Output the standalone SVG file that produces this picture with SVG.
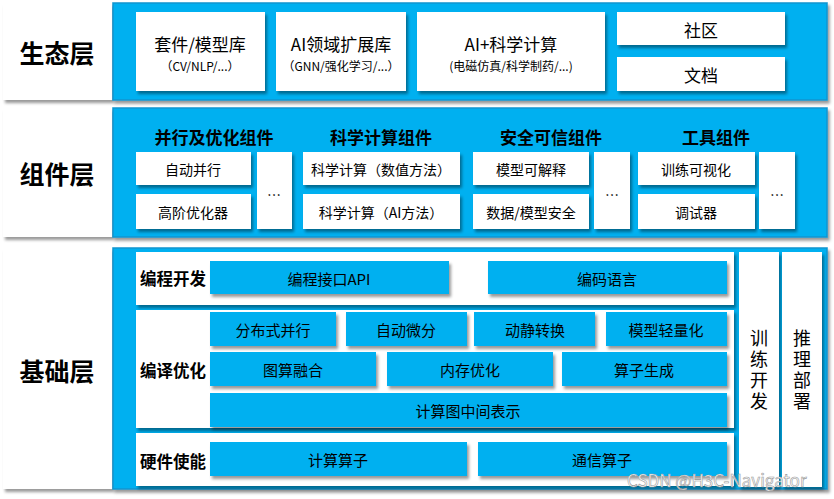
<svg xmlns="http://www.w3.org/2000/svg" width="834" height="499" viewBox="0 0 834 499">
<defs>
<filter id="sh" x="-10%" y="-10%" width="130%" height="140%">
<feDropShadow dx="2" dy="3" stdDeviation="1.5" flood-color="#000" flood-opacity="0.4"/>
</filter>
<style>
text{font-family:"Microsoft YaHei","Noto Sans CJK SC","Liberation Sans",sans-serif;fill:#000;text-anchor:middle;dominant-baseline:central}
.w{fill:#fff;filter:url(#sh)}
.b{fill:#00B0F0;filter:url(#sh)}
.panel{fill:#00B0F0;stroke:#0A95CF;stroke-width:1.5;filter:url(#sh)}
.lbl{font-size:25px;font-weight:bold}
.hd{font-size:17px;font-weight:bold}
.sub{font-size:16.5px;font-weight:bold}
.t{font-size:14px}
.tb{font-size:15px}
.big{font-size:17px}
.sm{font-size:12px}
.v{font-size:18px;writing-mode:vertical-rl;text-anchor:start;dominant-baseline:auto;letter-spacing:3px}
.wm{font-size:17px;fill:#fff;stroke:#999;stroke-width:0.6;text-anchor:start}
</style>
</defs>

<g id="layer-eco">
<rect class="w" x="3" y="3" width="109" height="97"/>
<text class="lbl" x="57" y="52">生态层</text>
<rect class="panel" x="113" y="3" width="714" height="97"/>
</g>
<g id="eco-suite">
<rect class="w" x="136" y="12" width="129" height="79"/>
<text class="big" x="200" y="43">套件/模型库</text>
<text class="sm" x="200" y="65">（CV/NLP/...）</text>
</g>
<g id="eco-ai-domain">
<rect class="w" x="276" y="12" width="130" height="79"/>
<text class="big" x="341" y="43">AI领域扩展库</text>
<text class="sm" x="341" y="65">（GNN/强化学习/...）</text>
</g>
<g id="eco-ai-sci">
<rect class="w" x="417" y="12" width="188" height="79"/>
<text class="big" x="511" y="43">AI+科学计算</text>
<text class="sm" x="511" y="65">(电磁仿真/科学制药/...)</text>
</g>
<g id="eco-community">
<rect class="w" x="617" y="12" width="168" height="33"/>
<text class="big" x="701" y="29">社区</text>
</g>
<g id="eco-docs">
<rect class="w" x="617" y="57" width="168" height="34"/>
<text class="big" x="701" y="74">文档</text>
</g>

<g id="layer-comp">
<rect class="w" x="3" y="108" width="109" height="129"/>
<text class="lbl" x="57" y="173">组件层</text>
<rect class="panel" x="113" y="108" width="714" height="129"/>
</g>
<g id="comp-parallel">
<text class="hd" x="214" y="136">并行及优化组件</text>
<rect class="w" x="136" y="152" width="115" height="33"/>
<text class="t" x="193" y="169">自动并行</text>
<rect class="w" x="136" y="194" width="115" height="35"/>
<text class="t" x="193" y="212">高阶优化器</text>
<rect class="w" x="257" y="152" width="35" height="77"/>
<text class="t" x="274" y="194">…</text>
</g>
<g id="comp-sci">
<text class="hd" x="381" y="136">科学计算组件</text>
<rect class="w" x="303" y="152" width="157" height="33"/>
<text class="t" x="381" y="169">科学计算（数值方法）</text>
<rect class="w" x="303" y="194" width="157" height="35"/>
<text class="t" x="381" y="212">科学计算（AI方法）</text>
</g>
<g id="comp-security">
<text class="hd" x="551" y="136">安全可信组件</text>
<rect class="w" x="473" y="152" width="116" height="33"/>
<text class="t" x="531" y="169">模型可解释</text>
<rect class="w" x="473" y="194" width="116" height="35"/>
<text class="t" x="531" y="212">数据/模型安全</text>
<rect class="w" x="594" y="152" width="36" height="77"/>
<text class="t" x="612" y="194">…</text>
</g>
<g id="comp-tools">
<text class="hd" x="716" y="136">工具组件</text>
<rect class="w" x="638" y="152" width="117" height="33"/>
<text class="t" x="696" y="169">训练可视化</text>
<rect class="w" x="638" y="194" width="117" height="35"/>
<text class="t" x="696" y="212">调试器</text>
<rect class="w" x="759" y="152" width="36" height="77"/>
<text class="t" x="777" y="194">…</text>
</g>

<g id="layer-base">
<rect class="w" x="3" y="248" width="109" height="241"/>
<text class="lbl" x="57" y="370">基础层</text>
<rect class="panel" x="113" y="248" width="714" height="241"/>
</g>
<g id="base-prog">
<rect class="w" x="136" y="252" width="598" height="53"/>
<text class="sub" x="173" y="278">编程开发</text>
<rect class="b" x="210" y="261" width="239" height="33"/>
<text class="tb" x="329" y="278">编程接口API</text>
<rect class="b" x="488" y="261" width="239" height="33"/>
<text class="tb" x="607" y="278">编码语言</text>
</g>
<g id="base-compile">
<rect class="w" x="136" y="310" width="598" height="118"/>
<text class="sub" x="173" y="370">编译优化</text>
<rect class="b" x="210" y="312" width="126" height="34"/>
<text class="tb" x="273" y="329">分布式并行</text>
<rect class="b" x="346" y="312" width="121" height="34"/>
<text class="tb" x="406" y="329">自动微分</text>
<rect class="b" x="474" y="312" width="121" height="34"/>
<text class="tb" x="535" y="329">动静转换</text>
<rect class="b" x="606" y="312" width="121" height="34"/>
<text class="tb" x="666" y="329">模型轻量化</text>
<rect class="b" x="210" y="352" width="166" height="34"/>
<text class="tb" x="293" y="369">图算融合</text>
<rect class="b" x="387" y="352" width="166" height="34"/>
<text class="tb" x="470" y="369">内存优化</text>
<rect class="b" x="562" y="352" width="165" height="34"/>
<text class="tb" x="644" y="369">算子生成</text>
<rect class="b" x="210" y="393" width="517" height="34"/>
<text class="tb" x="468" y="410">计算图中间表示</text>
</g>
<g id="base-hw">
<rect class="w" x="136" y="433" width="598" height="53"/>
<text class="sub" x="173" y="461">硬件使能</text>
<rect class="b" x="210" y="442" width="257" height="34"/>
<text class="tb" x="338" y="459">计算算子</text>
<rect class="b" x="478" y="442" width="249" height="34"/>
<text class="tb" x="602" y="459">通信算子</text>
</g>
<g id="base-train">
<rect class="w" x="739" y="252" width="40" height="235"/>
<text class="v" x="759" y="329">训练开发</text>
</g>
<g id="base-infer">
<rect class="w" x="782" y="252" width="40" height="235"/>
<text class="v" x="802" y="329">推理部署</text>
</g>
<g id="connectors"></g>
<text class="wm" x="627" y="479">CSDN @H3C-Navigator</text>
</svg>
